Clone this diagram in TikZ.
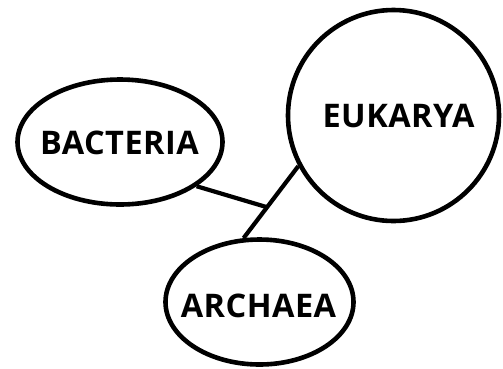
\documentclass[tikz,border=0pt]{standalone}
\usepackage{fontspec}
\setmainfont{Open Sans}
\newfontfamily\lblfont[LetterSpace=1.5]{Open Sans}
\usetikzlibrary{shapes.geometric}
\begin{document}
\begin{tikzpicture}[x=1pt,y=-1pt,
  blob/.style={draw=black,line width=4.6pt,ellipse,inner sep=0pt,fill=white},
  lbl/.style={font=\lblfont\fontsize{32.5}{38}\selectfont\bfseries,inner sep=0pt,text=black},
  link/.style={draw=black,line width=4.2pt}]
\useasboundingbox (0,0) rectangle (503,368);
\node[blob,minimum width=205pt,minimum height=125pt] (bac) at (120,142) {};
\node[blob,circle,minimum size=211pt] (euk) at (393.5,115.5) {};
\node[blob,minimum width=188pt,minimum height=125pt] (arc) at (259.5,302) {};
\node[lbl] (tbac) at (119.5,143) {BACTERIA};
\node[lbl] (teuk) at (398.5,116) {EUKARYA};
\node[lbl] (tarc) at (258.5,306) {ARCHAEA};
\draw[link] (euk.208) -- coordinate[pos=0.571] (j) (arc.104);
\draw[link] (bac.-30) -- (j);
\end{tikzpicture}
\end{document}
